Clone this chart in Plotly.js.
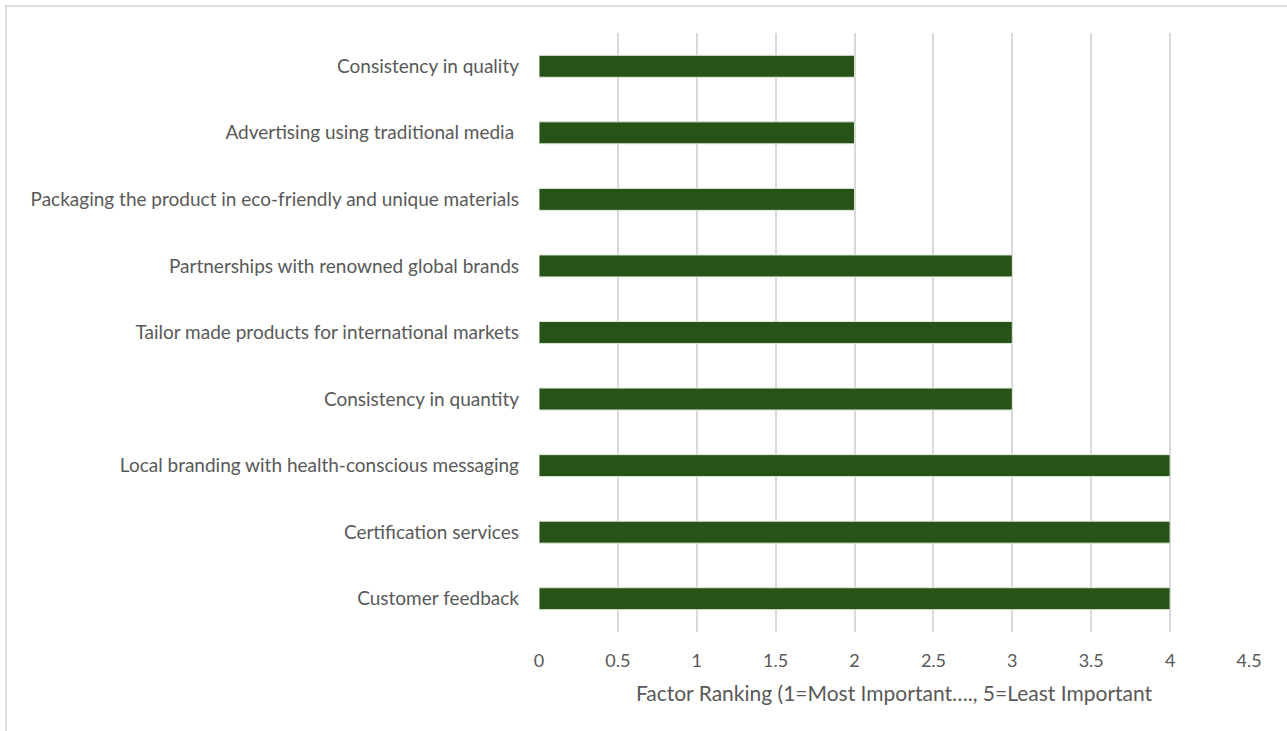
<!DOCTYPE html>
<html>
<head>
<meta charset="utf-8">
<script src="https://cdn.plot.ly/plotly-3.0.1.min.js"></script>
<style>
html,body{margin:0;padding:0;background:#fff;}
#chart{width:1287px;height:731px;position:relative;}
#frame{position:absolute;left:5px;top:5px;width:1300px;height:740px;border-top:2px solid #dcdcdc;border-left:2px solid #dcdcdc;pointer-events:none;}
</style>
</head>
<body>
<div id="chart"></div>
<div id="frame"></div>
<script>
const factors = [
  "Consistency in quality",
  "Advertising using traditional media ",
  "Packaging the product in eco-friendly and unique materials",
  "Partnerships with renowned global brands",
  "Tailor made products for international markets",
  "Consistency in quantity",
  "Local branding with health-conscious messaging",
  "Certification services",
  "Customer feedback"
];
const ranking = [2, 2, 2, 3, 3, 3, 4, 4, 4];
const xTickVals = [0, 0.5, 1, 1.5, 2, 2.5, 3, 3.5, 4, 4.5];
const xTitle = "Factor Ranking (1=Most Important…., 5=Least Important";

const trace = {
  type: 'bar',
  orientation: 'h',
  x: ranking,
  y: factors,
  marker: {color: '#285318', line: {color: '#dfe8da', width: 1}},
  hoverinfo: 'x+y'
};

const layout = {
  width: 1287,
  height: 731,
  margin: {l: 539, r: 38, t: 33, b: 99},
  paper_bgcolor: '#ffffff',
  plot_bgcolor: '#ffffff',
  bargap: 0.67,
  showlegend: false,
  font: {family: 'Lato, "Noto Sans", sans-serif', color: '#595959', size: 19},
  xaxis: {
    range: [0, 4.5],
    tickvals: xTickVals,
    ticktext: xTickVals.map(String),
    showgrid: true,
    gridcolor: '#d9d9d9',
    gridwidth: 2,
    zeroline: false,
    showline: false,
    ticks: '',
    ticklabelstandoff: 16,
    tickfont: {size: 18, color: '#595959'},
    title: {text: xTitle, font: {size: 21, color: '#595959'}, standoff: 16}
  },
  yaxis: {
    type: 'category',
    autorange: 'reversed',
    showgrid: false,
    zeroline: false,
    showline: false,
    ticks: '',
    ticklabelstandoff: 19,
    tickfont: {size: 19, color: '#595959'}
  }
};

Plotly.newPlot('chart', [trace], layout, {displayModeBar: false, staticPlot: true});
</script>
</body>
</html>
